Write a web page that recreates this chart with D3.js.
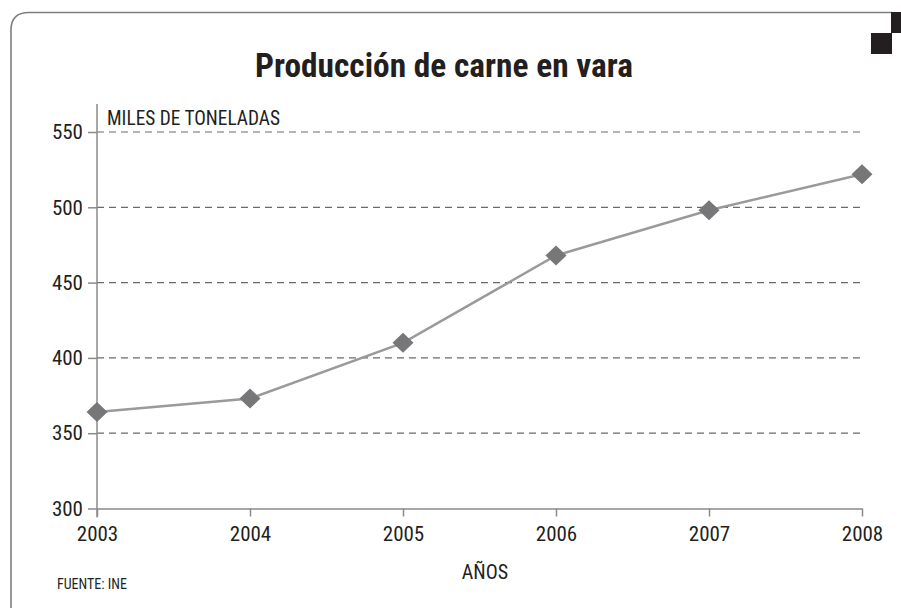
<!DOCTYPE html>
<html>
<head>
<meta charset="utf-8">
<script src="https://cdn.jsdelivr.net/npm/d3@7"></script>
<style>
  body { margin: 0; background: #fff; }
  text { font-family: "Liberation Sans Narrow", "Roboto Condensed", "Liberation Sans", sans-serif; fill: #231f20; }
</style>
</head>
<body>
<div id="chart"></div>
<script>
// datos
var years = [2003, 2004, 2005, 2006, 2007, 2008];
var production = [364, 373, 410, 468, 498, 522];
var yTicks = [300, 350, 400, 450, 500, 550];
var titleText = "Producción de carne en vara";
var unitText = "MILES DE TONELADAS";
var xTitle = "AÑOS";
var sourceText = "FUENTE: INE";

var width = 901, height = 608;
var margin = { left: 97, right: 901 - 862, top: 132, bottom: 608 - 508.5 };

var svg = d3.select("#chart").append("svg")
  .attr("width", width)
  .attr("height", height);

// marco con esquina redondeada
svg.append("path")
  .attr("d", "M11,612 L11,30 Q11,12.5 29,12.5 L892,12.5")
  .attr("fill", "none")
  .attr("stroke", "#7d7d7d")
  .attr("stroke-width", 1.6);

// cuadrados negros
svg.append("rect").attr("x", 891).attr("y", 12).attr("width", 10).attr("height", 21).attr("fill", "#231f20");
svg.append("rect").attr("x", 871).attr("y", 33).attr("width", 21).attr("height", 21).attr("fill", "#231f20");

// titulo
svg.append("text")
  .attr("x", 444)
  .attr("y", 77)
  .attr("text-anchor", "middle")
  .attr("font-size", 33)
  .attr("font-weight", "bold")
  .attr("textLength", 378)
  .attr("lengthAdjust", "spacingAndGlyphs")
  .text(titleText);

var x = d3.scaleLinear()
  .domain([2003, 2008])
  .range([margin.left, width - margin.right]);

var y = d3.scaleLinear()
  .domain([300, 550])
  .range([height - margin.bottom, margin.top]);

// lineas de division
svg.append("g")
  .selectAll("line")
  .data(yTicks.filter(function(d) { return d > 300; }))
  .enter()
    .append("line")
    .attr("x1", x(2003))
    .attr("x2", x(2008))
    .attr("y1", function(d) { return y(d); })
    .attr("y2", function(d) { return y(d); })
    .attr("stroke", "#6a6a6a")
    .attr("stroke-width", 1.2)
    .attr("stroke-dasharray", "7,5");

// eje y
var yAxis = svg.append("g")
  .attr("transform", "translate(" + x(2003) + ",0)")
  .call(d3.axisLeft(y).tickValues(yTicks).tickSize(9).tickPadding(5));
yAxis.select(".domain").remove();
yAxis.selectAll(".tick line").attr("stroke", "#8a8a8a").attr("stroke-width", 1.5);
yAxis.selectAll(".tick text")
  .attr("font-size", 21)
  .attr("font-family", null)
  .attr("fill", "#231f20");
yAxis.append("line")
  .attr("x1", 0).attr("x2", 0)
  .attr("y1", 104).attr("y2", y(300) + 9)
  .attr("stroke", "#8a8a8a")
  .attr("stroke-width", 1.5);

// eje x
var xAxis = svg.append("g")
  .attr("transform", "translate(0," + y(300) + ")")
  .call(d3.axisBottom(x).tickValues(years).tickFormat(d3.format("d")).tickSize(8).tickPadding(10).tickSizeOuter(0));
xAxis.select(".domain").attr("stroke", "#8a8a8a").attr("stroke-width", 1.5);
xAxis.selectAll(".tick line").attr("stroke", "#8a8a8a").attr("stroke-width", 1.5);
xAxis.selectAll(".tick text")
  .attr("font-size", 21)
  .attr("font-family", null)
  .attr("fill", "#231f20");

// textos
svg.append("text")
  .attr("x", 107)
  .attr("y", 125)
  .attr("font-size", 20)
  .attr("textLength", 173)
  .attr("lengthAdjust", "spacingAndGlyphs")
  .text(unitText);

svg.append("text")
  .attr("x", 485)
  .attr("y", 579)
  .attr("text-anchor", "middle")
  .attr("font-size", 20)
  .text(xTitle);

svg.append("text")
  .attr("x", 57)
  .attr("y", 589)
  .attr("font-size", 14)
  .text(sourceText);

// linea
var points = years.map(function(d, i) { return { year: d, value: production[i] }; });

svg.append("path")
  .datum(points)
  .attr("fill", "none")
  .attr("stroke", "#9a9a9a")
  .attr("stroke-width", 2.5)
  .attr("d", d3.line()
    .x(function(d) { return x(d.year); })
    .y(function(d) { return y(d.value); }));

svg.append("g")
  .selectAll("path")
  .data(points)
  .enter()
    .append("path")
    .attr("transform", function(d) { return "translate(" + x(d.year) + "," + y(d.value) + ")"; })
    .attr("d", "M0,-10L10.5,0L0,10L-10.5,0Z")
    .attr("fill", "#77777a");
</script>
</body>
</html>
